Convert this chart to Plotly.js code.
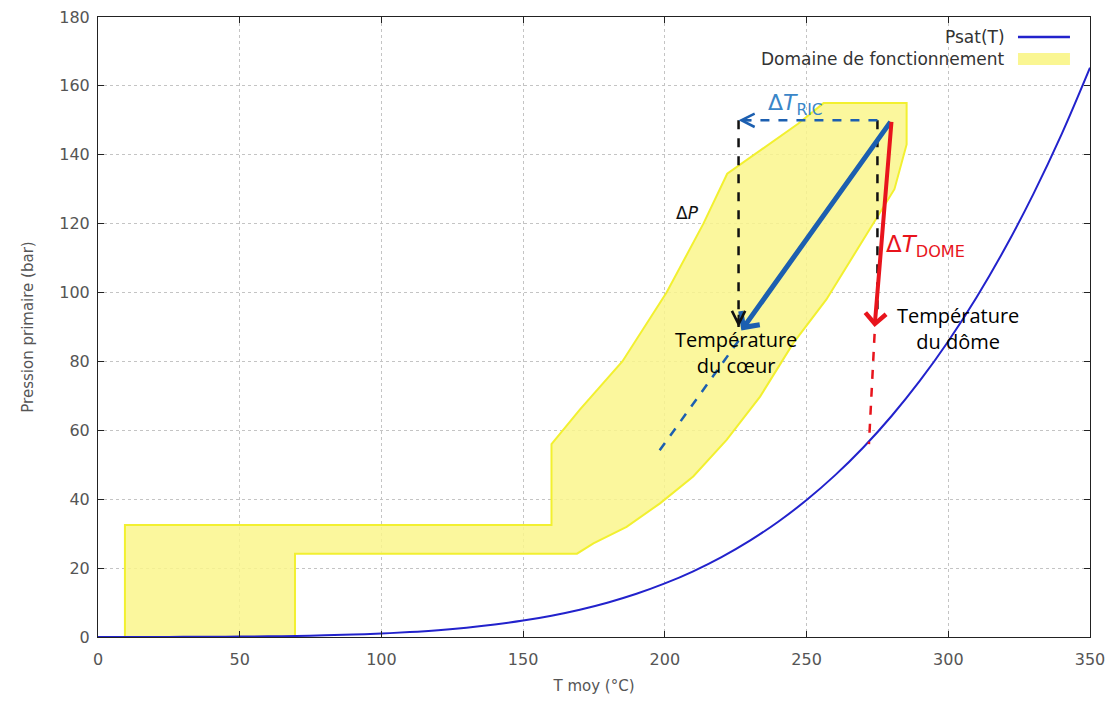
<!DOCTYPE html>
<html><head><meta charset="utf-8">
<script src="https://cdn.plot.ly/plotly-3.0.1.min.js"></script>
<style>body{margin:0;background:#fff}#c{width:1115px;height:704px}</style>
</head><body><div id="c"></div>
<script>
// Saturation pressure of water (bar) vs temperature (°C)
const psatT = [0,10,20,30,40,50,60,70,80,90,100,110,120,130,140,150,160,170,180,190,200,210,220,230,240,250,260,270,280,290,300,310,320,330,340,350];
const psatP = [0.006,0.0123,0.0234,0.0425,0.0738,0.1235,0.1995,0.312,0.4741,0.7018,1.0142,1.4338,1.9867,2.7028,3.6154,4.7616,6.1823,7.9219,10.028,12.552,15.549,19.077,23.196,27.971,33.469,39.762,46.923,55.03,64.166,74.418,85.879,98.651,112.84,128.58,146.0,165.29];
// Operating domain polygon
const domT = [9.5,9.5,160,160,170,185,200.6,213.6,222,247,256,285.3,285.3,281,257,245.3,233.6,221.8,210,198.3,186.5,174.8,169,69.5,69.5,9.5];
const domP = [0,32.5,32.5,56,66,80,100,120,134.5,149,155,155,143,130,98,85.3,69.8,57.2,46.6,38.8,32,27.2,24.2,24.2,0,0];
// Arrows / guide lines
const startPt = [280,150];
const coreEnd = [227,89];
const domeEnd = [274,90];
const coreDashT = [226,198], coreDashP = [86,54];
const domeDashT = [274,272], domeDashP = [88,56];
const ricT = [275,226], ricP = [150,150];
const dpLeftT = [226,226], dpLeftP = [150,90];
const dpRightT = [275,275], dpRightP = [150,95];
const xTicks = [0,50,100,150,200,250,300,350];
const yTicks = [0,20,40,60,80,100,120,140,160,180];

const blue='#1c5fb0', red='#e8141c', lblue='#3a86c8';
const traces = [
  {x:domT,y:domP,mode:'lines',fill:'toself',fillcolor:'rgba(250,246,140,0.85)',line:{color:'#f2f030',width:2},showlegend:false,hoverinfo:'skip'},
  {x:psatT,y:psatP,mode:'lines',line:{color:'#2222cc',width:2,shape:'spline'},showlegend:false},
  {x:dpLeftT,y:dpLeftP,mode:'lines',line:{color:'#111',width:2.5,dash:'dash'},showlegend:false},
  {x:dpRightT,y:dpRightP,mode:'lines',line:{color:'#111',width:2.5,dash:'dash'},showlegend:false},
  {x:ricT,y:ricP,mode:'lines',line:{color:blue,width:2.5,dash:'dash'},showlegend:false},
  {x:coreDashT,y:coreDashP,mode:'lines',line:{color:blue,width:2.5,dash:'dash'},showlegend:false},
  {x:domeDashT,y:domeDashP,mode:'lines',line:{color:red,width:2.5,dash:'dash'},showlegend:false}
];
const arr = (x,y,ax,ay,c,w,h,s)=>({x:x,y:y,ax:ax,ay:ay,xref:'x',yref:'y',axref:'x',ayref:'y',text:'',showarrow:true,arrowcolor:c,arrowwidth:w,arrowhead:h,arrowsize:s||1});
const txtFont='Open Sans, sans-serif';
const annotations = [
  arr(coreEnd[0],coreEnd[1],startPt[0],startPt[1],blue,5,4,0.9),
  arr(domeEnd[0],domeEnd[1],startPt[0],startPt[1],red,4,4,1),
  arr(ricT[1],ricP[1],ricT[1]+5,ricP[1],blue,2,5,1.3),
  arr(dpLeftT[1],dpLeftP[1],dpLeftT[1],dpLeftP[1]+4,'#111',2,5,1.3),
  {x:246,y:154.5,xref:'x',yref:'y',text:'Δ<i>T</i><sub>RIC</sub>',showarrow:false,font:{family:'DejaVu Sans',size:22,color:lblue}},
  {x:292,y:113.5,xref:'x',yref:'y',text:'Δ<i>T</i><sub>DOME</sub>',showarrow:false,font:{family:'DejaVu Sans',size:23,color:red}},
  {x:208,y:123,xref:'x',yref:'y',text:'Δ<i>P</i>',showarrow:false,font:{family:'DejaVu Sans',size:17,color:'#111'}},
  {x:225,y:82.5,xref:'x',yref:'y',text:'Température<br>du cœur',showarrow:false,font:{family:txtFont,size:20,color:'#000'}},
  {x:303.5,y:89.5,xref:'x',yref:'y',text:'Température<br>du dôme',showarrow:false,font:{family:txtFont,size:20,color:'#000'}},
  {x:0.9163,y:0.9677,xref:'paper',yref:'paper',xanchor:'right',yanchor:'middle',text:'Psat(T)',showarrow:false,font:{family:'DejaVu Sans',size:17,color:'#333'}},
  {x:0.9163,y:0.9323,xref:'paper',yref:'paper',xanchor:'right',yanchor:'middle',text:'Domaine de fonctionnement',showarrow:false,font:{family:'DejaVu Sans',size:17,color:'#333'}}
];
const shapes = [
  {type:'line',xref:'paper',yref:'paper',x0:0.9274,x1:0.9798,y0:0.9677,y1:0.9677,line:{color:'#2222cc',width:2.5}},
  {type:'rect',xref:'paper',yref:'paper',x0:0.9274,x1:0.9798,y0:0.9226,y1:0.9419,fillcolor:'rgba(250,246,140,0.95)',line:{width:0}}
];
const ax = {showline:true,linecolor:'#222',linewidth:1,mirror:'ticks',ticks:'inside',ticklen:6,tickcolor:'#222',
  showgrid:true,gridcolor:'#c4c4c4',griddash:'dot',gridwidth:1,zeroline:false,
  tickfont:{family:'DejaVu Sans',size:16,color:'#555'}};
const layout = {
  width:1115,height:704,margin:{l:98,r:25,t:17,b:67},paper_bgcolor:'#fff',plot_bgcolor:'#fff',
  xaxis:Object.assign({},ax,{range:[0,350],tickvals:xTicks,ticklabelstandoff:8,title:{text:'T moy (°C)',font:{family:'DejaVu Sans',size:15,color:'#555'},standoff:12}}),
  yaxis:Object.assign({},ax,{range:[0,180],tickvals:yTicks,ticklabelstandoff:4,title:{text:'Pression primaire (bar)',font:{family:'DejaVu Sans',size:15,color:'#555'},standoff:22}}),
  annotations:annotations,shapes:shapes,showlegend:false
};
Plotly.newPlot('c',traces,layout,{displayModeBar:false,staticPlot:true});
</script></body></html>
